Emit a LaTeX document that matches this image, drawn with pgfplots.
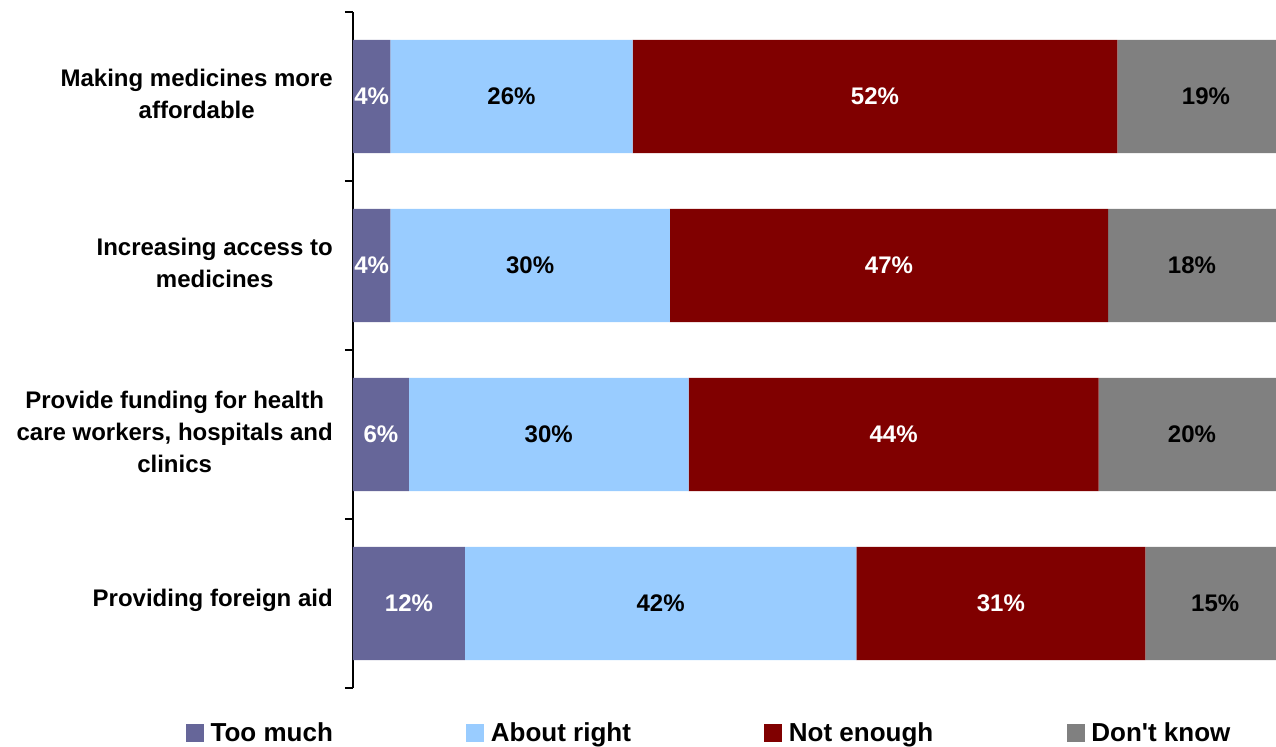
\documentclass[border=0pt]{standalone}
\usepackage{fontspec}
\setmainfont{Liberation Sans}
\newfontfamily\plainsans{Liberation Sans}
\usepackage{pgfplots}
\pgfplotsset{compat=1.18}
\definecolor{cToo}{HTML}{666699}
\definecolor{cAbout}{HTML}{99CCFF}
\definecolor{cNot}{HTML}{800000}
\definecolor{cDK}{HTML}{808080}
\pgfplotsset{
  common/.style={
    scale only axis,
    width=706.1pt, height=507pt,
    xmin=0, xmax=101,
    ymin=-0.5, ymax=3.5,
    y dir=reverse,
  },
  lbl/.style={
    only marks, mark=none,
    point meta=explicit symbolic,
    nodes near coords,
    every node near coord/.append style={anchor=center, text=#1,
      font=\fontsize{18pt}{22pt}\selectfont\bfseries},
  },
}
\begin{document}
\begin{tikzpicture}
\useasboundingbox (-264.75pt,-43.5pt) rectangle (692.25pt,516pt);
\begin{axis}[
  common,
  xbar stacked,
  bar width=0.67,
  axis x line=none,
  axis y line*=left,
  axis line style={black, line width=1.2pt},
  ytick={0,1,2,3},
  yticklabels={{Making medicines more\\affordable},{Increasing access to\\medicines},{Provide funding for health\\care workers, hospitals and\\clinics},{Providing foreign aid}},
  major tick length=0pt,
  yticklabel style={align=center, font=\fontsize{18pt}{24pt}\selectfont\bfseries, inner sep=0pt, xshift=-15pt, yshift=2pt},
  extra y ticks={-0.5,0.5,1.5,2.5,3.5},
  extra y tick labels={},
  extra y tick style={major tick length=6pt, tick align=outside, tick style={black, line width=1.2pt}},
  legend columns=4,
  legend style={draw=none, fill=none, at={(-0.1777,-0.0666)}, anchor=west,
    font=\fontsize{19.5pt}{22pt}\selectfont\bfseries,
    /tikz/every odd column/.append style={column sep=3pt},
    /tikz/every even column/.append style={column sep=98pt},
    inner sep=0pt},
  legend image code/.code={\fill[#1] (0pt,-6.75pt) rectangle (13.5pt,6.75pt);},
]
\addplot[fill=cToo, draw=none] coordinates {(4,0) (4,1) (6,2) (12,3)};
\addplot[fill=cAbout, draw=none] coordinates {(26,0) (30,1) (30,2) (42,3)};
\addplot[fill=cNot, draw=none] coordinates {(52,0) (47,1) (44,2) (31,3)};
\addplot[fill=cDK, draw=none] coordinates {(19,0) (18,1) (20,2) (15,3)};
\legend{Too much, About right, Not enough, {\plainsans Don't know}}
\end{axis}
\begin{axis}[common, hide axis, clip=false]
\addplot[lbl=white] coordinates {(2,0) [4\%] (2,1) [4\%] (3,2) [6\%] (6,3) [12\%]};
\addplot[lbl=black] coordinates {(17,0) [26\%] (19,1) [30\%] (21,2) [30\%] (33,3) [42\%]};
\addplot[lbl=white] coordinates {(56,0) [52\%] (57.5,1) [47\%] (58,2) [44\%] (69.5,3) [31\%]};
\addplot[lbl=black] coordinates {(91.5,0) [19\%] (90,1) [18\%] (90,2) [20\%] (92.5,3) [15\%]};
\end{axis}
\end{tikzpicture}
\end{document}
